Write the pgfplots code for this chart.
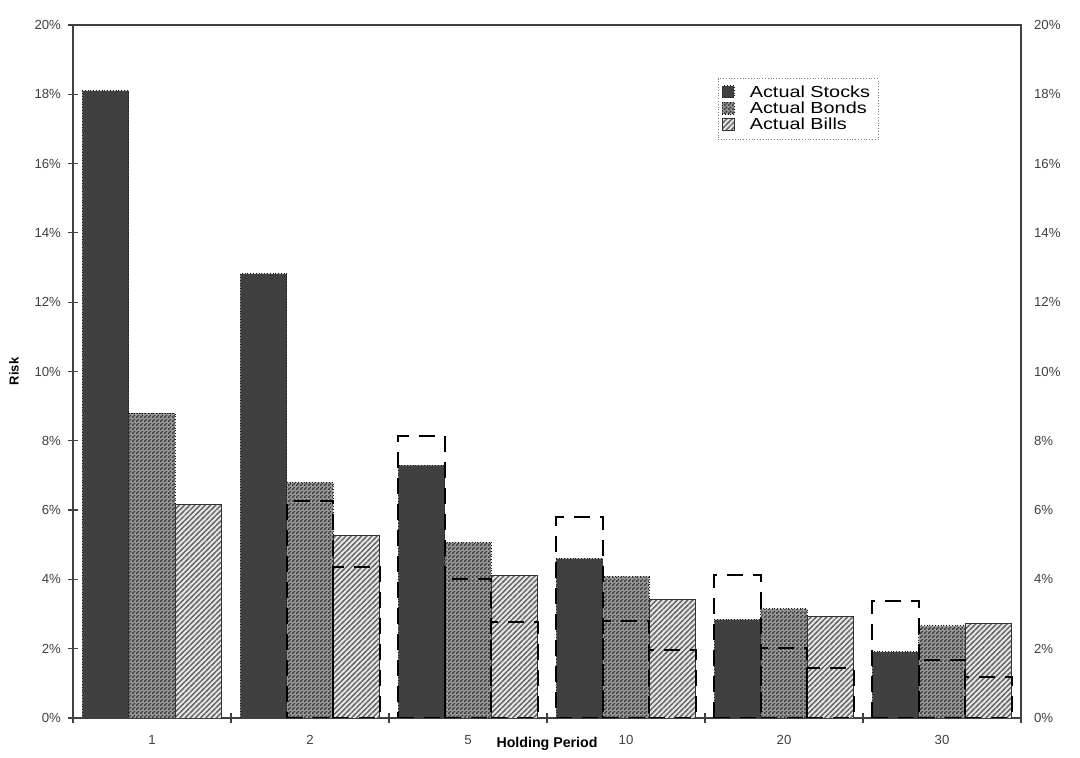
\documentclass[border=0pt]{standalone}
\usepackage{pgfplots}
\pgfplotsset{compat=1.18}
\usepackage{graphicx}
\usepackage{fontspec}
\setmainfont{Liberation Sans}
\usetikzlibrary{patterns}
\pgfdeclarepatternformonly{billlines}{\pgfqpoint{-1pt}{-1pt}}{\pgfqpoint{3.6pt}{3.6pt}}{\pgfqpoint{2.6pt}{2.6pt}}{%
  \pgfsetlinewidth{0.6pt}%
  \pgfpathmoveto{\pgfqpoint{-1pt}{-1pt}}%
  \pgfpathlineto{\pgfqpoint{3.6pt}{3.6pt}}%
  \pgfusepath{stroke}%
}
\pgfdeclarepatternformonly{bondchecks}{\pgfpointorigin}{\pgfqpoint{2pt}{2pt}}{\pgfqpoint{2pt}{2pt}}{%
  \pgfpathrectangle{\pgfpointorigin}{\pgfqpoint{1pt}{1pt}}%
  \pgfpathrectangle{\pgfqpoint{1pt}{1pt}}{\pgfqpoint{1pt}{1pt}}%
  \pgfusepath{fill}%
}
\begin{document}
\begin{tikzpicture}
\path (0pt,0pt) rectangle (540pt,378pt);
\begin{axis}[
  at={(36.5pt,19pt)}, anchor=south west,
  scale only axis, width=474pt, height=346.5pt,
  xmin=-0.5, xmax=5.5, ymin=0, ymax=20,
  ybar, bar width=0.294,
  axis line style={black!75, line width=0.8pt},
  ytick={0,2,4,6,8,10,12,14,16,18,20},
  yticklabels={0\%,2\%,4\%,6\%,8\%,10\%,12\%,14\%,16\%,18\%,20\%},
  ytick pos=left, tick align=center, major tick length=5pt,
  tick style={black!75, line width=0.6pt},
  xtick={-0.5,0.5,1.5,2.5,3.5,4.5,5.5}, xticklabels={}, xtick pos=bottom,
  extra x ticks={0,1,2,3,4,5}, extra x tick labels={1,2,5,10,20,30},
  extra x tick style={major tick length=0pt},
  ticklabel style={font=\fontsize{6.6}{7}\selectfont, text=black!75},
  xticklabel style={yshift=-5pt},
  ylabel={Risk},
  ylabel style={at={(axis description cs:-0.0622,0.5)}, anchor=center, font=\bfseries\fontsize{6.5}{7}\selectfont},
  xlabel={Holding Period},
  xlabel style={at={(axis description cs:0.5,0)}, anchor=center, yshift=-13pt, font=\bfseries\fontsize{7.1}{8}\selectfont},
  legend style={at={(0.68,0.923)}, anchor=north west, draw=black!50, densely dotted,
    font=\fontsize{8}{8}\selectfont, inner xsep=2pt, inner ysep=1.5pt, row sep=-3.2pt,
    legend cell align=left, nodes={solid}},
  legend image code/.code={\draw[#1] (0pt,-2.4pt) rectangle (6pt,3.6pt);},
]
\addplot[fill=black!75, draw=black!90, densely dotted, thin, bar shift=-0.294]
  coordinates {(0,18.1)(1,12.82)(2,7.29)(3,4.6)(4,2.84)(5,1.91)};
\addlegendentry{\hspace{5.5pt}\scalebox{1.24}[1]{Actual Stocks}}
\addplot[fill=black!40, draw=black!90, densely dotted, thin, bar shift=0,
  postaction={pattern=bondchecks, pattern color=black!80}]
  coordinates {(0,8.8)(1,6.8)(2,5.07)(3,4.08)(4,3.15)(5,2.66)};
\addlegendentry{\hspace{5.5pt}\scalebox{1.24}[1]{Actual Bonds}}
\addplot[fill=black!10, draw=black!80, thin, bar shift=0.294,
  postaction={pattern=billlines, pattern color=black!60}]
  coordinates {(0,6.15)(1,5.27)(2,4.11)(3,3.42)(4,2.92)(5,2.72)};
\addlegendentry{\hspace{5.5pt}\scalebox{1.24}[1]{Actual Bills}}
\addplot[fill=none, draw=black, line width=1pt, dash pattern=on 8pt off 5pt, bar shift=-0.294, forget plot]
  coordinates {(2,8.13)(3,5.79)(4,4.14)(5,3.39)};
\addplot[fill=none, draw=black, line width=1pt, dash pattern=on 8pt off 5pt, bar shift=0, forget plot]
  coordinates {(1,6.25)(2,4.0)(3,2.81)(4,2.03)(5,1.68)};
\addplot[fill=none, draw=black, line width=1pt, dash pattern=on 8pt off 5pt, bar shift=0.294, forget plot]
  coordinates {(1,4.37)(2,2.78)(3,1.97)(4,1.45)(5,1.19)};
\end{axis}
\begin{axis}[
  at={(36.5pt,19pt)}, anchor=south west,
  scale only axis, width=474pt, height=346.5pt,
  xmin=-0.5, xmax=5.5, ymin=0, ymax=20,
  axis x line=none, axis y line*=right,
  y axis line style={draw=none},
  ytick={0,2,4,6,8,10,12,14,16,18,20},
  yticklabels={0\%,2\%,4\%,6\%,8\%,10\%,12\%,14\%,16\%,18\%,20\%},
  major tick length=0pt,
  yticklabel style={font=\fontsize{6.6}{7}\selectfont, text=black!75, xshift=3pt},
]
\addplot[draw=none] coordinates {(0,0)};
\end{axis}
\end{tikzpicture}
\end{document}
